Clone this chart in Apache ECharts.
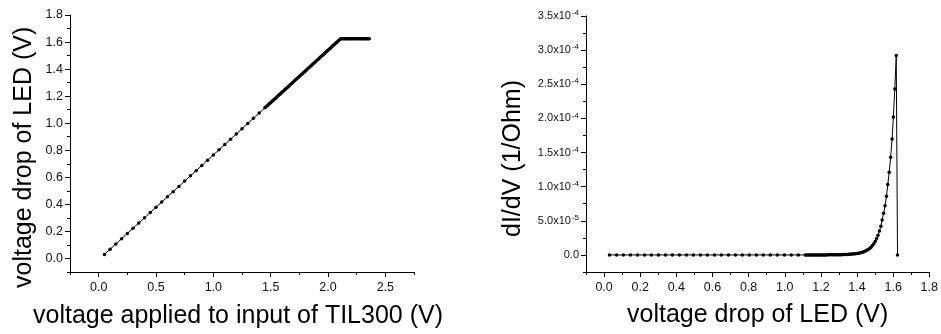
<!DOCTYPE html>
<html>
<head>
<meta charset="utf-8">
<script src="https://cdn.jsdelivr.net/npm/echarts/dist/echarts.min.js"></script>
<style>
html,body{margin:0;padding:0;background:#fff;}
#c{width:941px;height:334px;}
</style>
</head>
<body>
<div id="c"></div>
<script>
// ---- Left panel: input voltage (V) vs LED voltage drop (V)
const inputSparse = [0.05,0.10,0.15,0.20,0.25,0.30,0.35,0.40,0.45,0.50,0.55,0.60,0.65,0.70,0.75,0.80,0.85,0.90,0.95,1.00,1.05,1.10,1.15,1.20,1.25,1.30,1.35,1.40,1.45];
const ledSparse = [0.030,0.069,0.107,0.146,0.185,0.224,0.262,0.301,0.340,0.378,0.417,0.456,0.494,0.533,0.572,0.611,0.649,0.688,0.727,0.765,0.804,0.843,0.881,0.920,0.959,0.998,1.036,1.075,1.114];
const inputDense = [1.46,1.47,1.48,1.49,1.50,1.51,1.52,1.53,1.54,1.55,1.56,1.57,1.58,1.59,1.60,1.61,1.62,1.63,1.64,1.65,1.66,1.67,1.68,1.69,1.70,1.71,1.72,1.73,1.74,1.75,1.76,1.77,1.78,1.79,1.80,1.81,1.82,1.83,1.84,1.85,1.86,1.87,1.88,1.89,1.90,1.91,1.92,1.93,1.94,1.95,1.96,1.97,1.98,1.99,2.00,2.01,2.02,2.03,2.04,2.05,2.06,2.07,2.08,2.09,2.10,2.11];
const ledDense = [1.121,1.129,1.137,1.145,1.152,1.160,1.168,1.176,1.183,1.191,1.199,1.206,1.214,1.222,1.230,1.237,1.245,1.253,1.261,1.268,1.276,1.284,1.292,1.299,1.307,1.315,1.323,1.330,1.338,1.346,1.354,1.361,1.369,1.377,1.385,1.392,1.400,1.408,1.416,1.423,1.431,1.439,1.446,1.454,1.462,1.470,1.477,1.485,1.493,1.501,1.508,1.516,1.524,1.532,1.539,1.547,1.555,1.563,1.570,1.578,1.586,1.594,1.601,1.609,1.617,1.624];
const inputFlat = [2.12,2.13,2.14,2.15,2.16,2.17,2.18,2.19,2.20,2.21,2.22,2.23,2.24,2.25,2.26,2.27,2.28,2.29,2.30,2.31,2.32,2.33,2.34,2.35,2.36];
const ledFlat = [1.624,1.624,1.624,1.624,1.624,1.624,1.624,1.624,1.624,1.624,1.624,1.624,1.624,1.624,1.624,1.624,1.624,1.624,1.624,1.624,1.624,1.624,1.624,1.624,1.624];

// ---- Right panel: LED voltage drop (V) vs dI/dV (1/Ohm)
const condSparse = [0,0,0,0,0,0,0,0,0,0,0,0,0,0,0,0,0,0,0,0,0,0,0,0,0,0,0,0,0];
const condDense = [1e-8,1e-8,1e-8,1e-8,2e-8,2e-8,2e-8,3e-8,3e-8,4e-8,
  4e-8,5e-8,6e-8,7e-8,8e-8,9e-8,1.0e-7,1.2e-7,1.4e-7,1.6e-7,
  1.9e-7,2.2e-7,2.6e-7,3.0e-7,3.5e-7,4.1e-7,4.8e-7,5.6e-7,6.5e-7,7.5e-7,
  8.7e-7,1.0e-6,1.2e-6,1.4e-6,1.6e-6,1.9e-6,2.2e-6,2.6e-6,3.0e-6,3.5e-6,
  4.1e-6,4.8e-6,5.7e-6,6.7e-6,8.0e-6,9.5e-6,1.14e-5,1.37e-5,1.65e-5,2.0e-5,
  2.4e-5,2.9e-5,3.5e-5,4.2e-5,5.1e-5,6.1e-5,7.2e-5,8.6e-5,1.03e-4,1.21e-4,
  1.43e-4,1.70e-4,2.02e-4,2.43e-4,2.92e-4,0];

// ---- Tick labels
const leftXTicks = [0.0,0.5,1.0,1.5,2.0,2.5];
const leftYTicks = [0.0,0.2,0.4,0.6,0.8,1.0,1.2,1.4,1.6,1.8];
const rightXTicks = [0.0,0.2,0.4,0.6,0.8,1.0,1.2,1.4,1.6,1.8];
const rightYTicks = [0,5e-5,1.0e-4,1.5e-4,2.0e-4,2.5e-4,3.0e-4,3.5e-4];

const leftData = inputSparse.concat(inputDense, inputFlat).map((x, i) => [x, ledSparse.concat(ledDense, ledFlat)[i]]);
const rightData = ledSparse.concat(ledDense).map((v, i) => [v, condSparse.concat(condDense)[i]]);

const TXT = '#111';
const FONT = 'Liberation Sans, Arial, sans-serif';

function axisPair(gridIndex, min, max, half, majors, fmt, isY, labelSize, rich) {
  const pos = isY ? 'left' : 'bottom';
  const minor = {
    type: 'value', gridIndex, min, max, interval: half, position: pos,
    axisLine: { show: true, onZero: false, lineStyle: { color: '#000', width: 1 } },
    axisTick: { show: true, inside: false, length: 3, lineStyle: { color: '#000', width: 1 } },
    axisLabel: { show: false }, splitLine: { show: false }
  };
  const major = {
    type: 'value', gridIndex, min, max, interval: half, position: pos,
    axisLine: { show: false, onZero: false },
    axisTick: { show: true, inside: false, length: 5, customValues: majors, lineStyle: { color: '#000', width: 1 } },
    axisLabel: { show: true, customValues: majors, formatter: fmt, margin: isY ? 7 : 9,
      color: TXT, fontSize: labelSize, fontFamily: FONT, rich: rich },
    splitLine: { show: false }
  };
  return [minor, major];
}

const fix1 = v => (Math.round(v * 10) / 10).toFixed(1);
const sciFmt = v => {
  if (Math.abs(v) < 1e-12) return '{m|0.0}';
  const e = Math.floor(Math.log10(v) + 1e-9);
  const m = v / Math.pow(10, e);
  return '{m|' + m.toFixed(1) + 'x10}{s|' + e + '}';
};
const sciRich = {
  m: { fontSize: 11, fontFamily: FONT, color: TXT, lineHeight: 14 },
  s: { fontSize: 8, fontFamily: FONT, color: TXT, verticalAlign: 'top', lineHeight: 10, padding: [0, 0, 0, 1] }
};

const lx = axisPair(0, -0.25, 2.75, 0.25, leftXTicks, fix1, false, 12.5);
const ly = axisPair(0, -0.1, 1.8, 0.1, leftYTicks, fix1, true, 12.5);
const rx = axisPair(1, -0.1, 1.8, 0.1, rightXTicks, fix1, false, 12.5);
const ry = axisPair(1, -2.5e-5, 3.5e-4, 2.5e-5, rightYTicks, sciFmt, true, 11, sciRich);

const titleStyle = { fill: '#000', font: '25px ' + FONT };

const chart = echarts.init(document.getElementById('c'), null, { renderer: 'canvas' });
chart.setOption({
  animation: false,
  backgroundColor: '#fff',
  grid: [
    { left: 70, top: 15, width: 344, height: 257, containLabel: false },
    { left: 586, top: 16, width: 345, height: 256, containLabel: false }
  ],
  xAxis: [lx[0], lx[1], rx[0], rx[1]],
  yAxis: [ly[0], ly[1], ry[0], ry[1]],
  series: [
    { type: 'line', xAxisIndex: 1, yAxisIndex: 1, data: leftData, silent: true,
      symbol: 'circle', symbolSize: 3.5, showAllSymbol: true,
      lineStyle: { color: '#000', width: 1 }, itemStyle: { color: '#000' } },
    { type: 'line', xAxisIndex: 3, yAxisIndex: 3, data: rightData, silent: true,
      symbol: 'circle', symbolSize: 3.5, showAllSymbol: true,
      lineStyle: { color: '#000', width: 1 }, itemStyle: { color: '#000' } }
  ],
  graphic: [
    { type: 'text', x: 24, y: 288, rotation: Math.PI / 2,
      style: Object.assign({ text: 'voltage drop of LED (V)', textAlign: 'left', textVerticalAlign: 'middle' }, titleStyle) },
    { type: 'text', x: 33, y: 316,
      style: Object.assign({ text: 'voltage applied to input of TIL300 (V)', textAlign: 'left', textVerticalAlign: 'middle' }, titleStyle) },
    { type: 'text', x: 513, y: 237, rotation: Math.PI / 2,
      style: Object.assign({ text: 'dI/dV (1/Ohm)', textAlign: 'left', textVerticalAlign: 'middle' }, titleStyle) },
    { type: 'text', x: 627, y: 315,
      style: Object.assign({ text: 'voltage drop of LED (V)', textAlign: 'left', textVerticalAlign: 'middle' }, titleStyle) }
  ]
});
</script>
</body>
</html>
